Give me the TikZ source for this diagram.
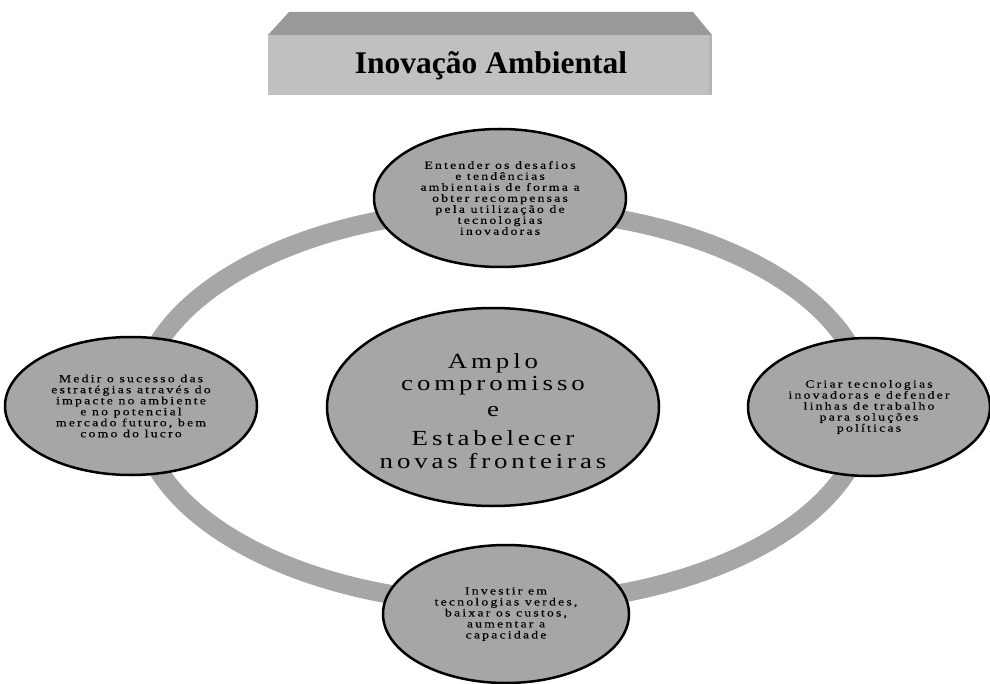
\documentclass[tikz,border=0pt]{standalone}
\usepackage{fontspec}
\setmainfont{Liberation Serif}
\newfontfamily\spacedfont[FakeStretch=1.25, LetterSpace=20, FakeBold=0.2]{Liberation Serif}
\newfontfamily\bigspacedfont[FakeStretch=1.25, LetterSpace=18]{Liberation Serif}
\usetikzlibrary{shapes.geometric}
\definecolor{nodegray}{HTML}{A6A6A6}
\definecolor{topgray}{HTML}{999999}
\definecolor{frontgray}{HTML}{C0C0C0}
\tikzset{
  smallnode/.style={ellipse, draw=black, line width=2.5pt, fill=nodegray, inner sep=0pt,
    minimum width=252pt, minimum height=138pt, align=center,
    font=\spacedfont\fontsize{11}{11}\selectfont},
  bignode/.style={ellipse, draw=black, line width=2.5pt, fill=nodegray, inner sep=0pt,
    minimum width=332pt, minimum height=198pt, align=center,
    font=\bigspacedfont\fontsize{21.5}{22.5}\selectfont},
  ring/.style={draw=nodegray, line width=19pt},
  titletext/.style={font=\bfseries\fontsize{31.5}{34}\selectfont, inner sep=0pt}
}
\begin{document}
\begin{tikzpicture}[x=1pt,y=-1pt]
\useasboundingbox (0,0) rectangle (990,684);
% title box
\fill[topgray] (289,12) -- (693,12) -- (712,35) -- (268,35) -- cycle;
\fill[frontgray] (268,35) rectangle (712,95);
\fill[topgray!30!frontgray] (709,35) rectangle (712,95);
\node[titletext] (title) at (491,66) {Inovação Ambiental};
% ring
\draw[ring] (503,406.5) ellipse [x radius=364, y radius=197.5];
% nodes
\node[bignode] (center) at (493,407) {};
\node[bignode, draw=none, fill=none] (centertext) at (493,411) {Amplo\\compromisso\\[3pt]e\\[7pt]Estabelecer\\novas fronteiras};
\node[smallnode] (top) at (500,198) {Entender os desafios\\e tendências\\ambientais de forma a\\obter recompensas\\pela utilização de\\tecnologias\\inovadoras};
\node[smallnode] (left) at (131,406) {Medir o sucesso das\\estratégias através do\\impacte no ambiente\\e no potencial\\mercado futuro, bem\\como do lucro};
\node[smallnode, minimum width=242pt] (right) at (869,407) {Criar tecnologias\\inovadoras e defender\\linhas de trabalho\\para soluções\\políticas};
\node[smallnode, minimum width=246pt] (bottom) at (506,614) {Investir em\\tecnologias verdes,\\baixar os custos,\\aumentar a\\capacidade};
\end{tikzpicture}
\end{document}
